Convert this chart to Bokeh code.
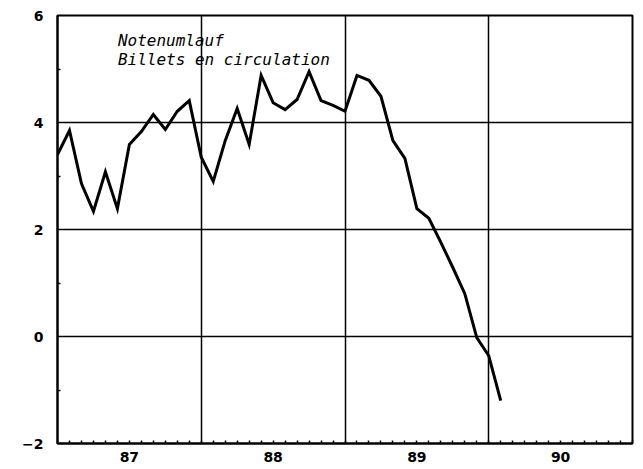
from bokeh.plotting import figure
from bokeh.models import FixedTicker, Label, Range1d
from bokeh.embed import file_html
from bokeh.resources import INLINE

# Monthly series starting January 1987 (percent change)
start_year = 1987
values = [3.40, 3.85, 2.86, 2.34, 3.08, 2.39, 3.59, 3.83, 4.15, 3.87, 4.21, 4.41,
          3.35, 2.90, 3.66, 4.26, 3.59, 4.88, 4.37, 4.24, 4.43, 4.95, 4.41, 4.32,
          4.21, 4.88, 4.79, 4.49, 3.66, 3.33, 2.39, 2.21, 1.76, 1.29, 0.80, -0.02,
          -0.36, -1.20]
years = [1987, 1988, 1989, 1990]
year_labels = ["87", "88", "89", "90"]
y_ticks = [-2, 0, 2, 4, 6]
title_lines = ["Notenumlauf", "Billets en circulation"]

xs = [start_year + i / 12 for i in range(len(values))]

p = figure(width=635, height=464, output_backend="svg", toolbar_location=None,
           x_range=Range1d(years[0], years[-1] + 1), y_range=Range1d(-2, 6),
           min_border_left=57, min_border_right=3, min_border_top=15, min_border_bottom=21)
p.background_fill_color = "white"
p.border_fill_color = "white"
p.outline_line_color = "black"
p.outline_line_width = 2

# x axis: labels centred in each year, monthly minor ticks
xt = FixedTicker(ticks=[y + 0.5 for y in years],
                 minor_ticks=[years[0] + m / 12 for m in range(12 * len(years) + 1)])
p.xaxis.ticker = xt
p.xaxis.major_label_overrides = {y + 0.5: lab for y, lab in zip(years, year_labels)}
yt = FixedTicker(ticks=y_ticks, minor_ticks=[-1, 1, 3, 5])
p.yaxis.ticker = yt

for ax in (p.xaxis[0], p.yaxis[0]):
    ax.axis_line_color = "black"
    ax.axis_line_width = 2
    ax.major_tick_in = 0
    ax.major_tick_out = 0
    ax.minor_tick_in = 3
    ax.minor_tick_out = 0
    ax.minor_tick_line_color = "black"
    ax.minor_tick_line_width = 1.5
    ax.major_label_text_font = "DejaVu Sans"
    ax.major_label_text_font_style = "bold"
    ax.major_label_text_font_size = "14px"
    ax.major_label_text_color = "black"
p.xaxis.major_label_standoff = 8
p.yaxis.major_label_standoff = 14

p.xgrid.ticker = FixedTicker(ticks=years[1:])
for g in (p.xgrid[0], p.ygrid[0]):
    g.grid_line_color = "black"
    g.grid_line_width = 1.5
    g.grid_line_alpha = 1.0

p.line(xs, values, line_color="black", line_width=3, line_join="miter")

for i, t in enumerate(title_lines):
    p.add_layout(Label(x=1987.42, y=5.54 - i * 0.355, text=t,
                       text_font="DejaVu Sans Mono", text_font_style="italic",
                       text_font_size="16px", text_color="black",
                       text_baseline="alphabetic"))

open("out.html", "w").write(file_html(p, INLINE))
